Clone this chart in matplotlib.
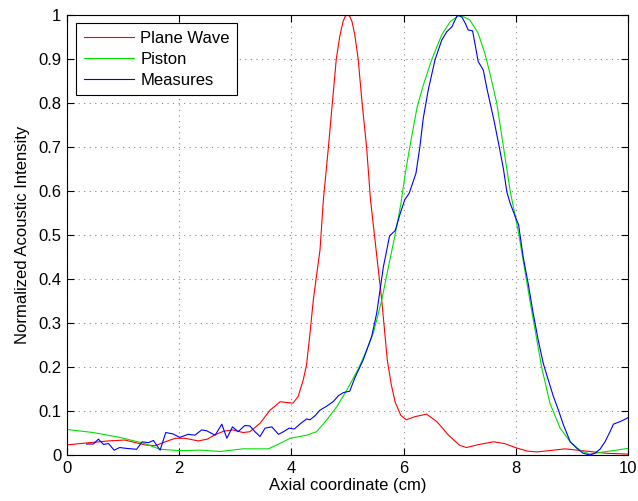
import matplotlib
matplotlib.use("Agg")
import matplotlib.pyplot as plt

plt.rcParams['font.family'] = ['Liberation Sans', 'DejaVu Sans']

# Plane Wave (red)
pw_x = [0.0, 0.4, 0.74, 1.03, 1.39, 1.57, 1.75, 1.93, 2.1, 2.34, 2.5, 2.64, 2.79, 2.96,
        3.14, 3.26, 3.44, 3.62, 3.8, 3.93, 4.03, 4.12, 4.21, 4.27, 4.33, 4.39, 4.45, 4.51, 4.57,
        4.66, 4.73, 4.80, 4.86, 4.92, 4.96, 5.0, 5.04, 5.08, 5.13, 5.19, 5.26, 5.34, 5.41,
        5.51, 5.61, 5.71, 5.78, 5.85, 5.95, 6.05, 6.2, 6.41, 6.6, 6.8, 7.0, 7.12, 7.35, 7.6,
        7.8, 7.99, 8.2, 8.37, 8.6, 8.88, 9.1, 9.32, 9.6, 10.0]
pw_y = [0.023, 0.028, 0.032, 0.034, 0.023, 0.021, 0.030, 0.038, 0.038, 0.032, 0.036, 0.046,
        0.054, 0.057, 0.051, 0.053, 0.072, 0.102, 0.121, 0.119, 0.118, 0.133, 0.170, 0.205, 0.275,
        0.352, 0.41, 0.466, 0.58, 0.70, 0.80, 0.90, 0.95, 0.985, 0.997, 1.0, 0.997, 0.985,
        0.955, 0.90, 0.80, 0.70, 0.58, 0.466, 0.352, 0.215, 0.16, 0.12, 0.09, 0.080, 0.087,
        0.093, 0.075, 0.045, 0.022, 0.017, 0.024, 0.030, 0.026, 0.017, 0.009, 0.007, 0.010,
        0.014, 0.011, 0.008, 0.004, 0.002]

# Piston (green)
pi_x = [0.0, 0.47, 0.94, 1.36, 1.66, 2.01, 2.37, 2.73, 3.14, 3.59, 3.74, 3.98, 4.27, 4.45,
        4.63, 4.81, 4.99, 5.19, 5.33, 5.46, 5.61, 5.73, 5.84, 5.95, 6.03, 6.11, 6.24, 6.35,
        6.50, 6.68, 6.83, 7.0, 7.18, 7.33, 7.45, 7.54, 7.66, 7.78, 7.90, 8.05, 8.25, 8.46,
        8.61, 8.79, 8.97, 9.14, 9.32, 9.62, 10.0]
pi_y = [0.058, 0.051, 0.040, 0.027, 0.013, 0.010, 0.011, 0.008, 0.014, 0.014, 0.023, 0.038,
        0.045, 0.053, 0.080, 0.110, 0.148, 0.195, 0.235, 0.277, 0.352, 0.428, 0.495, 0.57,
        0.64, 0.70, 0.79, 0.84, 0.898, 0.955, 0.985, 1.0, 0.989, 0.958, 0.912, 0.867, 0.80,
        0.70, 0.60, 0.504, 0.352, 0.2, 0.117, 0.061, 0.030, 0.011, 0.002, 0.008, 0.015]

# Measures (blue)
me_x = [0.35, 0.47, 0.56, 0.65, 0.74, 0.84, 0.94, 1.06, 1.24, 1.34, 1.45, 1.54, 1.66, 1.76,
        1.89, 2.01, 2.16, 2.28, 2.40, 2.49, 2.64, 2.76, 2.85, 2.95, 3.05, 3.17, 3.26, 3.35,
        3.44, 3.53, 3.65, 3.77, 3.86, 3.96, 4.05, 4.15, 4.27, 4.33, 4.42, 4.51, 4.63, 4.75,
        4.84, 4.93, 5.04, 5.13, 5.28, 5.43, 5.52, 5.58, 5.64, 5.70, 5.75, 5.85, 5.94, 6.02,
        6.10, 6.22, 6.29, 6.35, 6.44, 6.56, 6.68, 6.77, 6.86, 6.96, 7.04, 7.10, 7.15, 7.23,
        7.27, 7.33, 7.42, 7.49, 7.57, 7.61, 7.69, 7.78, 7.84, 7.90, 7.99, 8.05, 8.13, 8.22,
        8.31, 8.40, 8.49, 8.58, 8.67, 8.76, 8.85, 8.97, 9.09, 9.20, 9.32, 9.41, 9.50, 9.59,
        9.68, 9.74, 9.86, 9.96, 10.0]
me_y = [0.025, 0.025, 0.036, 0.024, 0.026, 0.011, 0.017, 0.015, 0.013, 0.030, 0.028, 0.033,
        0.011, 0.051, 0.048, 0.040, 0.047, 0.045, 0.057, 0.055, 0.045, 0.070, 0.038, 0.064,
        0.053, 0.067, 0.066, 0.053, 0.042, 0.061, 0.064, 0.047, 0.053, 0.061, 0.059, 0.070,
        0.082, 0.080, 0.089, 0.102, 0.111, 0.122, 0.135, 0.142, 0.145, 0.175, 0.216, 0.269,
        0.322, 0.375, 0.428, 0.466, 0.498, 0.510, 0.549, 0.58, 0.595, 0.64, 0.70, 0.765,
        0.83, 0.898, 0.943, 0.962, 0.973, 1.0, 0.995, 0.981, 0.966, 0.964, 0.936, 0.894,
        0.875, 0.830, 0.784, 0.761, 0.710, 0.650, 0.598, 0.572, 0.542, 0.523, 0.451, 0.390,
        0.322, 0.261, 0.208, 0.170, 0.133, 0.102, 0.068, 0.030, 0.015, 0.004, 0.0, 0.004,
        0.013, 0.030, 0.053, 0.070, 0.076, 0.082, 0.085]

x_ticks = [0, 2, 4, 6, 8, 10]
y_ticks = [0, 0.1, 0.2, 0.3, 0.4, 0.5, 0.6, 0.7, 0.8, 0.9, 1.0]
y_ticklabels = ['0', '0.1', '0.2', '0.3', '0.4', '0.5', '0.6', '0.7', '0.8', '0.9', '1']

fig = plt.figure(figsize=(6.38, 5.01), dpi=100)
ax = fig.add_axes([67/638, 46/501, 561/638, 440/501])

ax.plot(pw_x, pw_y, color='#ff0000', lw=0.8, label='Plane Wave')
ax.plot(pi_x, pi_y, color='#00e000', lw=0.8, label='Piston')
ax.plot(me_x, me_y, color='#0000ff', lw=0.8, label='Measures')

ax.set_xlim(0, 10)
ax.set_ylim(0, 1)
ax.set_xticks(x_ticks)
ax.set_xticklabels([str(t) for t in x_ticks])
ax.set_yticks(y_ticks)
ax.set_yticklabels(y_ticklabels)
ax.tick_params(direction='in', top=True, right=True, length=5, width=0.8, labelsize=12, pad=4)
ax.grid(True, color='#888888', linestyle=(0, (1, 4)), linewidth=0.8)
for s in ax.spines.values():
    s.set_linewidth(0.8)

ax.set_xlabel('Axial coordinate (cm)', fontsize=12, labelpad=2)
ax.set_ylabel('Normalized Acoustic Intensity', fontsize=12, labelpad=6)

leg = ax.legend(loc='upper left', bbox_to_anchor=(9/561, 1 - 8.3/440), fontsize=12,
                handlelength=3.0, handletextpad=0.4, labelspacing=0.36, borderpad=0.45,
                fancybox=False, framealpha=1, edgecolor='black', borderaxespad=0)
leg.get_frame().set_linewidth(0.8)

fig.savefig('out.png', dpi=100)
